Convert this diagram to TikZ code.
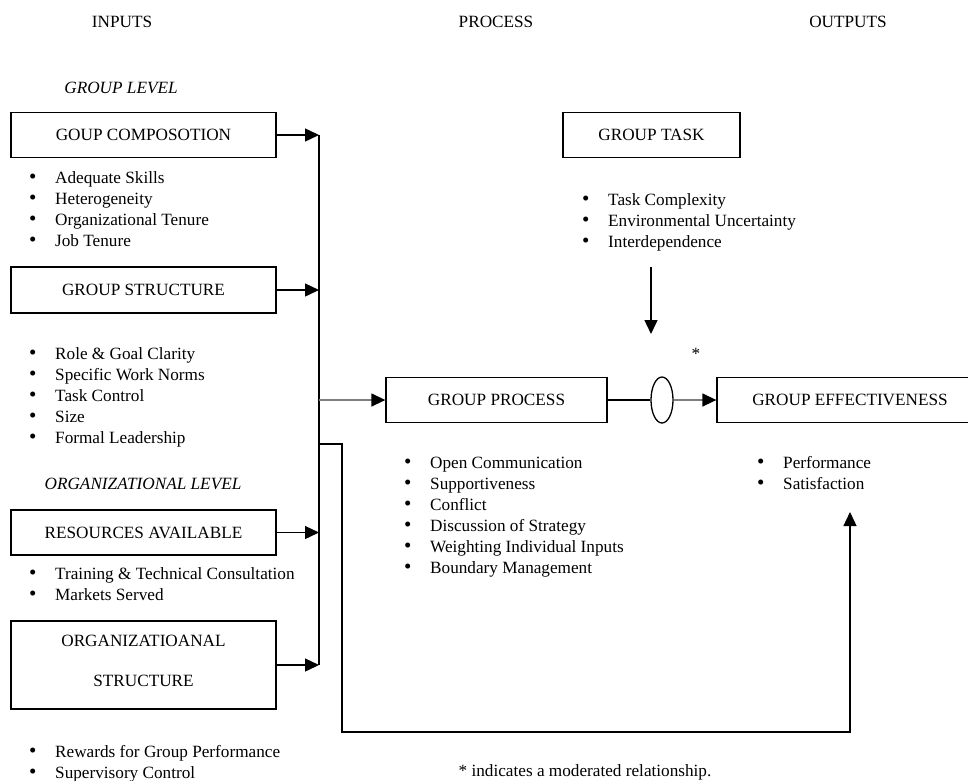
\documentclass[tikz,border=0pt]{standalone}
\usepackage{fontspec}
\setmainfont{Liberation Serif}
\usepackage{tikz}
\usetikzlibrary{arrows.meta,shapes.geometric,positioning}
\definecolor{g}{HTML}{7F7F7F}
\tikzset{
    box/.style={draw, line width=1.3pt, inner sep=0pt, minimum height=45pt},
    item/.style={anchor=base west, inner sep=0pt},
    link/.style={line width=1.4pt},
    >={Triangle[length=14pt, width=13pt, color=black]}
}
\newcommand{\blist}[4]{
    \pgfmathsetmacro{\x}{#2}
    \pgfmathsetmacro{\y}{#3}
    \foreach \txt [count=\ci] in {#4} {
        \node[item] (#1-\ci) at (\x, \y + \ci*21 - 21) {\makebox[26pt][l]{\raisebox{-0.6pt}{\fontsize{21}{21}\selectfont\textbullet}}\txt};
    }
}

\begin{document}
\begin{tikzpicture}[x=1pt, y=-1pt, font=\fontsize{17.2}{20.9}\selectfont]
        \useasboundingbox (0,0) rectangle (968,780);

        \node (inputs) at (122, 22) {INPUTS};
        \node (process) at (496, 22) {PROCESS};
        \node (outputs) at (848, 22) {OUTPUTS};

        \node (grplevel) at (121, 88) {\itshape GROUP LEVEL};

        \node[box, minimum width=265pt] (comp) at (143.5, 135) {GOUP COMPOSOTION};
        \blist{comp}{29}{183}{Adequate Skills, Heterogeneity, Organizational Tenure, Job Tenure};

        \node[box, minimum width=265pt, minimum height=46pt] (struct) at (143.5, 290) {GROUP STRUCTURE};
        \blist{struct}{29}{359}{Role \& Goal Clarity, Specific Work Norms, Task Control, Size, Formal Leadership};

        \node (orglevel) at (143, 484) {\itshape ORGANIZATIONAL LEVEL};

        \node[box, minimum width=265pt] (res) at (143.5, 532.5) {RESOURCES AVAILABLE};
        \blist{res}{29}{579}{Training \& Technical Consultation, Markets Served};

        \node[box, minimum width=265pt, minimum height=88pt, align=center] (org) at (143.5, 665) {ORGANIZATIOANAL\\[19pt]STRUCTURE\\[-12pt]\mbox{}};
        \blist{org}{29}{757}{Rewards for Group Performance, Supervisory Control};

        \node[box, minimum width=177pt] (task) at (651.5, 135) {GROUP TASK};
        \blist{task}{582}{205}{Task Complexity, Environmental Uncertainty, Interdependence};

        \node[box, minimum width=221pt] (proc) at (496.5, 400) {GROUP PROCESS};
        \blist{proc}{404}{468}{Open Communication, Supportiveness, Conflict, Discussion of Strategy, Weighting Individual Inputs, Boundary Management};

        \node[box, minimum width=266pt] (eff) at (850, 400) {GROUP EFFECTIVENESS};
        \blist{eff}{757}{468}{Performance, Satisfaction};

        \node[draw, ellipse, line width=1.3pt, minimum width=22pt, minimum height=46pt, inner sep=0pt] (mod) at (662, 400) {};
        \node[anchor=base] (star) at (696, 359) {*};

        \node[anchor=base] (note) at (585, 776) {* indicates a moderated relationship.};

        \coordinate (bustop) at (319, 135);
        \coordinate (busbot) at (319, 665);
        \coordinate (fork) at (342, 444);
        \coordinate (low) at (342, 732);
        \coordinate (effin) at (850, 512);
        \coordinate (taskout) at (651, 267);
        \coordinate (taskin) at (651, 334);

        \draw[link] (bustop) -- (busbot);
        \path[link, ->] (comp.east) edge (bustop)
            (struct.east) edge (struct.east -| bustop)
            (res.east) edge (res.east -| bustop)
            (org.east) edge (org.east -| bustop);

        \draw[link, g, ->] (proc.west -| bustop) -- (proc.west);
        \draw[link, ->] (bustop |- fork) -- (fork) -- (low) -- (low -| eff) -- (effin);

        \draw[link] (proc.east) -- (mod.west);
        \draw[link, g, ->] (mod.east) -- (eff.west);
        \draw[link, ->] (taskout) -- (taskin);

\end{tikzpicture}
\end{document}
